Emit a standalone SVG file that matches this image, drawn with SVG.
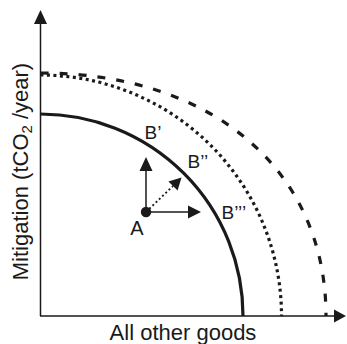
<svg xmlns="http://www.w3.org/2000/svg" width="347" height="344" viewBox="0 0 347 344">
<style>
text{font-family:"Liberation Sans",Arial,sans-serif;fill:#1a1a1a}
.lbl{font-size:19px}
.ax{font-size:22px}
.axis{stroke:#1a1a1a;stroke-width:1.5;fill:none}
.head{fill:#1a1a1a}
</style>
<rect width="347" height="344" fill="#fff"/>
<g id="axes">
<path class="axis" d="M40.5,316 V22 M40,316 H335"/>
<polygon class="head" points="40.5,10 34,24 47,24"/>
<polygon class="head" points="346,316 334,309.5 334,322.5"/>
</g>
<g id="curves" fill="none" stroke="#1a1a1a">
<path id="frontier1" d="M40.5,114 A202.5,202 0 0 1 243,316" stroke-width="3.2"/>
<path id="frontier2" d="M40.5,75 A241,241 0 0 1 281.5,316" stroke-width="3.2" stroke-dasharray="3 3.5"/>
<path id="frontier3" d="M40.5,73 C212,73 326,170 326,316" stroke-width="3.2" stroke-dasharray="8 11"/>
</g>
<g id="connectors" stroke="#1a1a1a" fill="none">
<path d="M146,212 V170" stroke-width="1.5"/>
<path d="M146,212 H188" stroke-width="1.5"/>
<path d="M146,212 L173,186" stroke-width="1.8" stroke-dasharray="2 2.5"/>
<polygon class="head" stroke="none" points="146,157 139.5,171 152.5,171"/>
<polygon class="head" stroke="none" points="201,212 188,205.5 188,218.5"/>
<polygon class="head" stroke="none" points="181.5,177.5 177.6,190.6 168.4,181.4"/>
</g>
<g id="nodeA">
<circle cx="146" cy="212" r="5.2" fill="#1a1a1a"/>
<text x="137" y="235" text-anchor="middle" font-size="20">A</text>
</g>
<g id="nodeB1"><text class="lbl" x="144.5" y="138.5">B’</text></g>
<g id="nodeB2"><text class="lbl" x="187.5" y="167.5">B’’</text></g>
<g id="nodeB3"><text class="lbl" x="221.5" y="218.5">B’’’</text></g>
<text class="ax" x="183" y="340" text-anchor="middle">All other goods</text>
<text class="ax" transform="translate(28,171.5) rotate(-90)" text-anchor="middle">Mitigation (tCO<tspan font-size="15" dy="4">2</tspan><tspan dy="-4"> /year)</tspan></text>
</svg>
